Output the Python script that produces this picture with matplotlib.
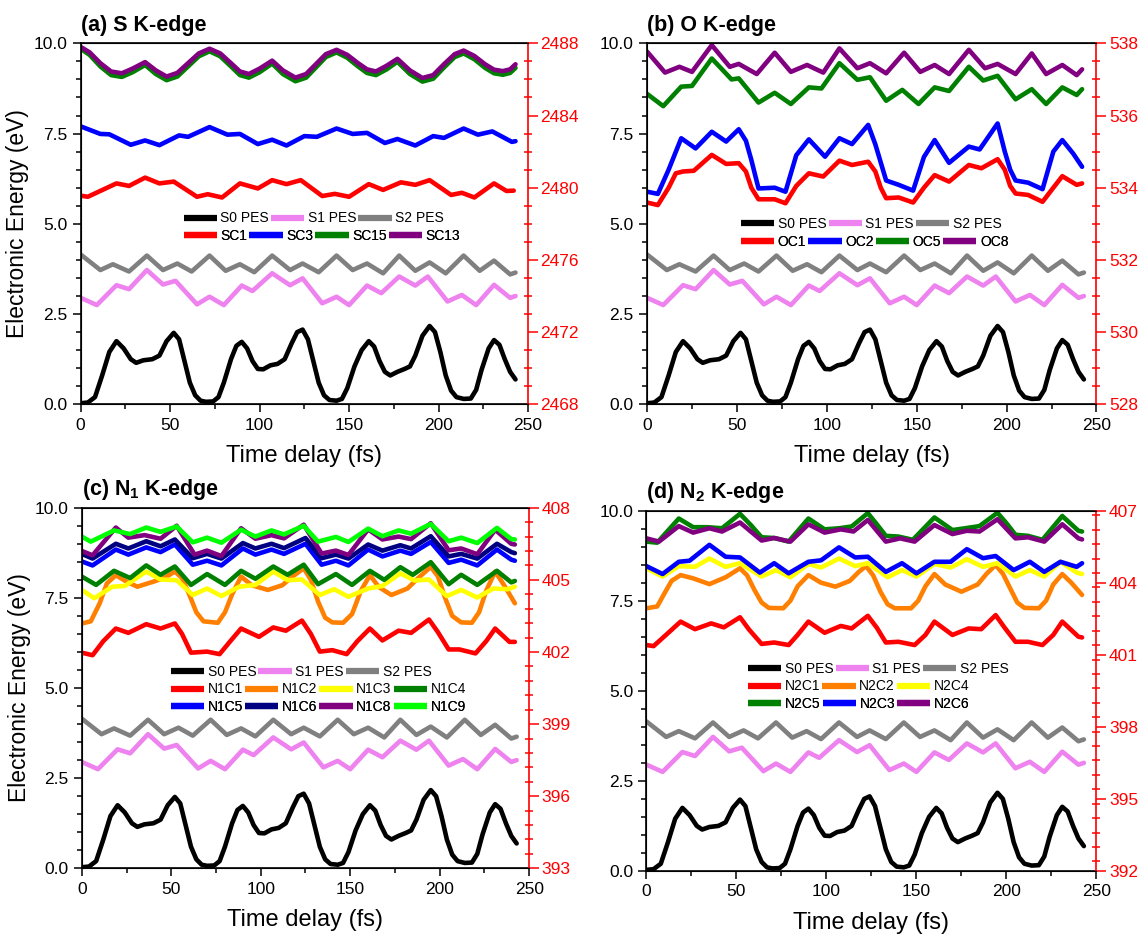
import matplotlib
matplotlib.use('Agg')
import matplotlib.pyplot as plt
import numpy as np
from matplotlib.lines import Line2D
from matplotlib.ticker import MultipleLocator, FormatStrFormatter

plt.rcParams['font.family'] = 'Liberation Sans'
plt.rcParams['mathtext.fontset'] = 'custom'
plt.rcParams['mathtext.rm'] = 'Liberation Sans'
plt.rcParams['mathtext.bf'] = 'Liberation Sans:bold'

# ---- ground / excited state PES (same in every panel) ----
t_s0 = [0, 4, 8, 12, 16, 20, 24, 28, 31, 35, 40, 44, 48, 52, 55, 58, 61, 64, 67, 70, 74, 77, 80, 84, 87, 90,
        93, 96, 99, 102, 106, 110, 114, 118, 121, 124, 127, 130, 133, 136, 139, 143, 146, 149, 153, 157, 161,
        164, 167, 170, 173, 177, 181, 184, 187, 191, 195, 198, 201, 204, 207, 210, 214, 218, 221, 224, 228,
        231, 234, 237, 240, 243]
e_s0 = [0.03, 0.05, 0.2, 0.8, 1.45, 1.75, 1.55, 1.25, 1.15, 1.22, 1.25, 1.35, 1.75, 1.98, 1.8, 1.2, 0.6, 0.25,
        0.1, 0.07, 0.08, 0.2, 0.6, 1.25, 1.62, 1.73, 1.55, 1.2, 0.98, 0.97, 1.08, 1.12, 1.25, 1.7, 2.0, 2.07,
        1.8, 1.2, 0.6, 0.25, 0.12, 0.1, 0.15, 0.45, 1.05, 1.5, 1.75, 1.6, 1.2, 0.9, 0.8, 0.9, 0.98, 1.05, 1.35,
        1.9, 2.17, 2.0, 1.45, 0.8, 0.38, 0.2, 0.15, 0.16, 0.4, 0.95, 1.55, 1.78, 1.65, 1.25, 0.9, 0.69]

t_s1 = [0, 9, 20, 27, 37, 46, 53, 65, 72, 80, 90, 96, 107, 117, 124, 135, 143, 150, 160, 168, 178, 187, 194,
        205, 213, 221, 231, 240, 243]
e_s1 = [2.95, 2.75, 3.3, 3.19, 3.72, 3.32, 3.42, 2.77, 2.98, 2.75, 3.29, 3.14, 3.63, 3.3, 3.49, 2.8, 2.98, 2.75,
        3.29, 3.08, 3.54, 3.29, 3.54, 2.85, 3.03, 2.75, 3.31, 2.95, 3.0]

t_s2 = [0, 11, 18, 27, 37, 46, 54, 62, 72, 81, 89, 97, 107, 117, 124, 133, 143, 152, 160, 169, 178, 187, 195,
        204, 214, 223, 231, 240, 243]
e_s2 = [4.15, 3.72, 3.88, 3.68, 4.12, 3.72, 3.9, 3.68, 4.12, 3.7, 3.88, 3.66, 4.12, 3.72, 3.9, 3.66, 4.12, 3.72,
        3.9, 3.63, 4.12, 3.7, 3.93, 3.63, 4.12, 3.7, 3.98, 3.6, 3.65]

# ---- (a) S K-edge ----
t_sc1 = [0, 4, 20, 27, 36, 44, 52, 65, 71, 79, 89, 99, 107, 115, 123, 135, 142, 150, 161, 169, 179, 187, 195,
         207, 213, 220, 231, 238, 242]
e_sc1 = [5.78, 5.75, 6.12, 6.05, 6.28, 6.12, 6.17, 5.75, 5.82, 5.73, 6.12, 5.98, 6.21, 6.1, 6.21, 5.77, 5.83,
         5.75, 6.1, 5.94, 6.15, 6.08, 6.21, 5.8, 5.86, 5.73, 6.12, 5.91, 5.92]
t_sc3 = [0, 11, 16, 28, 36, 44, 55, 60, 72, 82, 89, 99, 107, 115, 125, 132, 143, 152, 160, 170, 177, 187, 197,
         203, 214, 222, 230, 241, 243]
e_sc3 = [7.7, 7.49, 7.48, 7.19, 7.31, 7.18, 7.45, 7.41, 7.68, 7.47, 7.49, 7.21, 7.33, 7.17, 7.43, 7.41, 7.64,
         7.49, 7.52, 7.24, 7.35, 7.17, 7.43, 7.38, 7.64, 7.47, 7.56, 7.27, 7.29]
t_sc13 = [0, 5, 11, 17, 23, 29, 36, 42, 48, 54, 60, 66, 72, 78, 84, 89, 94, 100, 107, 113, 120, 126, 132, 137,
          143, 149, 155, 160, 165, 171, 177, 184, 191, 197, 203, 209, 214, 220, 226, 231, 236, 240, 243]
e_sc13 = [9.9, 9.75, 9.45, 9.22, 9.17, 9.3, 9.48, 9.25, 9.08, 9.18, 9.45, 9.72, 9.85, 9.72, 9.45, 9.22, 9.15,
          9.3, 9.52, 9.25, 9.05, 9.15, 9.45, 9.7, 9.82, 9.68, 9.45, 9.28, 9.22, 9.38, 9.57, 9.25, 9.04, 9.12,
          9.42, 9.7, 9.8, 9.65, 9.42, 9.27, 9.23, 9.28, 9.42]
t_sc15 = t_sc13
e_sc15 = [9.85, 9.68, 9.36, 9.12, 9.07, 9.2, 9.4, 9.15, 8.98, 9.08, 9.36, 9.64, 9.78, 9.64, 9.36, 9.12, 9.05,
          9.2, 9.44, 9.15, 8.95, 9.05, 9.36, 9.62, 9.75, 9.6, 9.36, 9.18, 9.12, 9.28, 9.49, 9.15, 8.94, 9.02,
          9.33, 9.62, 9.72, 9.56, 9.32, 9.17, 9.13, 9.18, 9.32]

# ---- (b) O K-edge ----
t_oc1 = [0, 6, 12, 16, 20, 26, 36, 44, 51, 55, 58, 62, 71, 77, 83, 90, 98, 107, 114, 123, 127, 130, 133, 140,
         148, 154, 160, 168, 179, 186, 195, 199, 202, 205, 212, 220, 226, 231, 239, 242]
e_oc1 = [5.59, 5.52, 6.0, 6.4, 6.45, 6.47, 6.91, 6.66, 6.68, 6.45, 6.0, 5.68, 5.68, 5.57, 6.05, 6.4, 6.31, 6.75,
         6.63, 6.72, 6.45, 6.0, 5.71, 5.73, 5.59, 6.0, 6.35, 6.17, 6.63, 6.54, 6.79, 6.5, 6.05, 5.84, 5.8, 5.61,
         6.0, 6.32, 6.08, 6.12]
t_oc2 = [0, 6, 12, 19, 27, 36, 44, 51, 55, 58, 62, 71, 77, 83, 90, 99, 107, 114, 123, 127, 130, 133, 140, 148,
         154, 160, 168, 179, 185, 195, 199, 202, 205, 212, 220, 226, 231, 237, 242]
e_oc2 = [5.89, 5.83, 6.5, 7.37, 7.09, 7.55, 7.28, 7.62, 7.3, 6.77, 5.98, 6.0, 5.89, 6.9, 7.34, 6.86, 7.37, 7.21,
         7.74, 7.2, 6.7, 6.2, 6.08, 5.92, 6.85, 7.32, 6.69, 7.14, 7.06, 7.78, 7.0, 6.5, 6.2, 6.14, 5.96, 7.0,
         7.32, 6.95, 6.58]
t_oc5 = [0, 9, 19, 25, 36, 47, 51, 62, 71, 80, 90, 97, 107, 117, 124, 133, 142, 151, 160, 168, 179, 187, 195,
         205, 214, 222, 231, 239, 242]
e_oc5 = [8.6, 8.26, 8.8, 8.82, 9.58, 9.0, 9.03, 8.36, 8.63, 8.32, 8.78, 8.75, 9.45, 8.99, 9.06, 8.41, 8.71, 8.32,
         8.78, 8.68, 9.35, 8.97, 9.1, 8.45, 8.73, 8.32, 8.78, 8.57, 8.73]
t_oc8 = [0, 10, 18, 25, 36, 46, 51, 61, 71, 80, 89, 98, 107, 117, 124, 133, 143, 152, 160, 168, 179, 188, 195,
         205, 214, 222, 231, 239, 242]
e_oc8 = [9.77, 9.19, 9.35, 9.21, 9.95, 9.35, 9.43, 9.15, 9.74, 9.21, 9.4, 9.19, 9.86, 9.31, 9.45, 9.17, 9.74,
         9.21, 9.4, 9.15, 9.82, 9.31, 9.43, 9.15, 9.72, 9.15, 9.4, 9.12, 9.28]

# ---- (c) N1 K-edge ----
t_n1c1 = [0, 6, 12, 19, 26, 36, 44, 52, 56, 61, 70, 77, 83, 89, 99, 107, 114, 123, 128, 133, 140, 148, 154, 161,
          168, 177, 184, 194, 199, 205, 211, 220, 226, 231, 239, 242]
e_n1c1 = [5.98, 5.91, 6.3, 6.65, 6.53, 6.77, 6.65, 6.79, 6.5, 5.98, 6.01, 5.94, 6.3, 6.65, 6.42, 6.68, 6.59,
          6.87, 6.5, 6.01, 6.05, 5.94, 6.3, 6.65, 6.32, 6.59, 6.53, 6.9, 6.55, 6.07, 6.07, 5.96, 6.3, 6.65, 6.28,
          6.28]
t_n1c2 = [0, 5, 10, 14, 19, 25, 31, 40, 46, 52, 56, 60, 64, 68, 76, 80, 84, 89, 95, 104, 112, 118, 124, 128, 132,
          136, 140, 146, 151, 156, 161, 166, 173, 182, 188, 195, 199, 203, 207, 212, 218, 222, 226, 231, 236, 242]
e_n1c2 = [6.79, 6.85, 7.35, 7.9, 8.13, 7.95, 7.81, 7.95, 8.05, 8.23, 8.05, 7.6, 7.1, 6.85, 6.81, 7.1, 7.6, 8.09,
          7.85, 7.72, 7.85, 8.1, 8.32, 8.0, 7.4, 6.95, 6.82, 6.81, 7.05, 7.7, 8.13, 7.8, 7.58, 7.76, 8.05, 8.36,
          8.1, 7.5, 7.0, 6.82, 6.81, 7.1, 7.7, 8.23, 7.85, 7.35]
t_n1c3 = [0, 7, 17, 24, 36, 44, 53, 62, 70, 78, 88, 97, 107, 115, 123, 133, 141, 149, 160, 168, 178, 186, 194,
          204, 212, 221, 230, 238, 242]
e_n1c3 = [7.72, 7.49, 7.81, 7.83, 8.23, 8.01, 7.99, 7.58, 7.76, 7.55, 7.81, 7.86, 8.23, 7.99, 8.01, 7.58, 7.74,
          7.53, 7.76, 7.83, 8.18, 7.98, 8.01, 7.55, 7.72, 7.51, 7.76, 7.74, 7.81]
t_n1c4 = [0, 8, 18, 27, 36, 44, 52, 61, 70, 80, 89, 97, 107, 115, 124, 132, 142, 151, 161, 169, 178, 185, 195,
          205, 212, 221, 232, 240, 242]
e_n1c4 = [8.09, 7.86, 8.25, 8.05, 8.4, 8.14, 8.37, 7.86, 8.16, 7.86, 8.25, 8.03, 8.37, 8.14, 8.42, 7.88, 8.16,
          7.86, 8.25, 8.0, 8.35, 8.14, 8.49, 7.88, 8.14, 7.86, 8.25, 7.93, 7.97]
t_n1c5 = [0, 6, 19, 26, 36, 44, 52, 62, 70, 78, 90, 97, 106, 113, 125, 134, 142, 149, 160, 168, 178, 184, 195,
          205, 212, 221, 232, 240, 242]
e_n1c5 = [8.51, 8.4, 8.84, 8.7, 8.9, 8.77, 8.98, 8.42, 8.53, 8.4, 8.87, 8.7, 8.84, 8.72, 9.0, 8.42, 8.53, 8.4,
          8.84, 8.65, 8.81, 8.72, 9.05, 8.47, 8.56, 8.4, 8.84, 8.56, 8.53]
t_n1c6 = t_n1c5
e_n1c6 = [8.72, 8.59, 9.0, 8.87, 9.07, 8.93, 9.12, 8.6, 8.72, 8.59, 9.02, 8.87, 9.0, 8.88, 9.16, 8.6, 8.7, 8.59,
          8.98, 8.81, 8.96, 8.87, 9.21, 8.65, 8.72, 8.59, 9.0, 8.77, 8.74]
t_n1c8 = [0, 6, 19, 26, 35, 44, 53, 63, 70, 78, 89, 97, 106, 113, 124, 134, 142, 149, 160, 168, 177, 184, 195,
          205, 212, 221, 231, 240, 242]
e_n1c8 = [8.8, 8.68, 9.45, 9.17, 9.24, 9.14, 9.5, 8.7, 8.81, 8.66, 9.43, 9.14, 9.24, 9.15, 9.53, 8.73, 8.81, 8.69,
          9.4, 9.12, 9.2, 9.13, 9.57, 8.82, 8.87, 8.71, 9.39, 9.0, 8.98]
t_n1c9 = [0, 5, 18, 27, 36, 44, 53, 62, 70, 78, 89, 97, 106, 113, 124, 132, 142, 149, 160, 168, 177, 184, 195,
          205, 212, 221, 232, 240, 242]
e_n1c9 = [9.2, 9.06, 9.37, 9.27, 9.45, 9.33, 9.48, 9.04, 9.17, 9.03, 9.39, 9.2, 9.37, 9.26, 9.5, 9.06, 9.19,
          9.05, 9.42, 9.21, 9.37, 9.28, 9.55, 9.07, 9.17, 9.02, 9.44, 9.13, 9.12]

# ---- (d) N2 K-edge ----
t_n2c1 = [0, 4, 12, 19, 27, 36, 43, 52, 57, 64, 71, 79, 84, 90, 99, 108, 114, 123, 128, 133, 140, 149, 155, 160,
          170, 179, 186, 194, 199, 205, 212, 220, 226, 231, 240, 242]
e_n2c1 = [6.27, 6.24, 6.6, 6.92, 6.71, 6.87, 6.76, 7.04, 6.7, 6.3, 6.34, 6.27, 6.55, 6.92, 6.61, 6.8, 6.73,
          7.08, 6.75, 6.34, 6.36, 6.27, 6.55, 6.92, 6.55, 6.73, 6.71, 7.1, 6.75, 6.36, 6.36, 6.27, 6.55, 6.92,
          6.5, 6.48]
t_n2c2 = [0, 6, 10, 14, 19, 26, 35, 44, 52, 56, 60, 64, 68, 76, 80, 84, 90, 97, 105, 113, 118, 122, 126, 130,
          134, 138, 147, 151, 155, 160, 166, 175, 184, 189, 194, 198, 202, 206, 210, 218, 222, 226, 231, 236, 242]
e_n2c2 = [7.29, 7.34, 7.7, 8.05, 8.21, 8.12, 7.96, 8.15, 8.4, 8.2, 7.8, 7.45, 7.3, 7.29, 7.5, 7.9, 8.21, 8.0,
          7.89, 8.05, 8.3, 8.46, 8.2, 7.75, 7.4, 7.29, 7.29, 7.5, 7.9, 8.24, 7.95, 7.75, 7.95, 8.25, 8.49, 8.25,
          7.85, 7.45, 7.3, 7.29, 7.5, 7.95, 8.24, 8.0, 7.66]
t_n2c4 = [0, 9, 18, 27, 35, 44, 52, 64, 72, 80, 90, 97, 107, 116, 123, 134, 142, 150, 160, 169, 178, 187, 195,
          205, 213, 221, 230, 239, 242]
e_n2c4 = [8.4, 8.17, 8.46, 8.44, 8.67, 8.44, 8.54, 8.17, 8.35, 8.15, 8.52, 8.42, 8.67, 8.46, 8.54, 8.15, 8.35,
          8.17, 8.52, 8.42, 8.65, 8.44, 8.54, 8.17, 8.35, 8.17, 8.58, 8.28, 8.24]
t_n2c5 = [0, 6, 18, 26, 34, 42, 52, 58, 64, 71, 79, 90, 99, 107, 114, 123, 128, 133, 140, 148, 160, 170, 177,
          185, 195, 200, 205, 212, 220, 231, 240, 242]
e_n2c5 = [9.14, 9.11, 9.78, 9.54, 9.54, 9.51, 9.91, 9.6, 9.26, 9.24, 9.14, 9.78, 9.48, 9.51, 9.56, 9.93, 9.62,
          9.3, 9.28, 9.19, 9.81, 9.46, 9.51, 9.57, 9.94, 9.65, 9.33, 9.3, 9.19, 9.85, 9.44, 9.42]
t_n2c3 = [0, 9, 18, 24, 35, 44, 52, 63, 71, 79, 90, 97, 107, 116, 123, 133, 142, 150, 160, 169, 178, 187, 194,
          204, 213, 221, 230, 239, 242]
e_n2c3 = [8.46, 8.24, 8.58, 8.61, 9.05, 8.72, 8.7, 8.28, 8.54, 8.26, 8.58, 8.62, 8.98, 8.7, 8.72, 8.3, 8.54,
          8.26, 8.58, 8.58, 8.93, 8.68, 8.74, 8.35, 8.58, 8.3, 8.58, 8.44, 8.54]
t_n2c6 = [0, 7, 18, 26, 35, 42, 52, 64, 71, 80, 90, 99, 108, 115, 123, 133, 141, 149, 160, 170, 178, 185, 195,
          205, 212, 221, 231, 240, 242]
e_n2c6 = [9.23, 9.14, 9.57, 9.39, 9.51, 9.42, 9.67, 9.17, 9.24, 9.14, 9.62, 9.39, 9.48, 9.42, 9.74, 9.14, 9.23,
          9.14, 9.6, 9.35, 9.44, 9.42, 9.76, 9.23, 9.26, 9.14, 9.62, 9.23, 9.2]

pes = [('S0 PES', 'black', t_s0, e_s0), ('S1 PES', 'violet', t_s1, e_s1), ('S2 PES', 'gray', t_s2, e_s2)]

panels = [
    dict(pos=[0.0709, 0.5671, 0.3931, 0.3865], title='(a) S K-edge', ylabel=True,
         right=(2468, 2488, 4, 1), leg_x=0.230, leg_y=[0.515, 0.467], rows=[4],
         cores=[('SC1', 'red', t_sc1, e_sc1), ('SC3', 'blue', t_sc3, e_sc3),
                ('SC15', 'green', t_sc15, e_sc15), ('SC13', 'purple', t_sc13, e_sc13)]),
    dict(pos=[0.5686, 0.5671, 0.3949, 0.3865], title='(b) O K-edge', ylabel=False,
         right=(528, 538, 2, 0.5), leg_x=0.209, leg_y=[0.4995, 0.450], rows=[4],
         cores=[('OC1', 'red', t_oc1, e_oc1), ('OC2', 'blue', t_oc2, e_oc2),
                ('OC5', 'green', t_oc5, e_oc5), ('OC8', 'purple', t_oc8, e_oc8)]),
    dict(pos=[0.0719, 0.0703, 0.3931, 0.3861], title=r'(c) N$_\mathbf{1}$ K-edge', ylabel=True,
         right=(393, 408, 3, 0.6), leg_x=0.199, leg_y=[0.545, 0.496, 0.448], rows=[4, 4],
         cores=[('N1C1', 'red', t_n1c1, e_n1c1), ('N1C2', '#FF8000', t_n1c2, e_n1c2),
                ('N1C3', '#FFFF00', t_n1c3, e_n1c3), ('N1C4', 'green', t_n1c4, e_n1c4),
                ('N1C5', 'blue', t_n1c5, e_n1c5), ('N1C6', 'navy', t_n1c6, e_n1c6),
                ('N1C8', 'purple', t_n1c8, e_n1c8), ('N1C9', '#00FF00', t_n1c9, e_n1c9)]),
    dict(pos=[0.5680, 0.0675, 0.3955, 0.3858], title=r'(d) N$_\mathbf{2}$ K-edge', ylabel=False,
         right=(392, 407, 3, 0.6), leg_x=0.226, leg_y=[0.560, 0.512, 0.463], rows=[3, 3],
         cores=[('N2C1', 'red', t_n2c1, e_n2c1), ('N2C2', '#FF8000', t_n2c2, e_n2c2),
                ('N2C4', '#FFFF00', t_n2c4, e_n2c4), ('N2C5', 'green', t_n2c5, e_n2c5),
                ('N2C3', 'blue', t_n2c3, e_n2c3), ('N2C6', 'purple', t_n2c6, e_n2c6)]),
]

fig = plt.figure(figsize=(11.38, 9.34), dpi=100)

for p in panels:
    ax = fig.add_axes(p['pos'])
    series = pes + p['cores']
    for name, col, t, e in series:
        ax.plot(t, e, color=col, lw=3.3, solid_joinstyle='round', solid_capstyle='round')

    ax.set_xlim(0, 250)
    ax.set_ylim(0, 10)
    ax.set_xticks(np.arange(0, 251, 50))
    ax.xaxis.set_minor_locator(MultipleLocator(25))
    ax.set_yticks(np.arange(0, 10.01, 2.5))
    ax.yaxis.set_minor_locator(MultipleLocator(0.5))
    ax.yaxis.set_major_formatter(FormatStrFormatter('%.1f'))
    ax.tick_params(which='both', direction='out', top=False, right=False, width=1.1, labelsize=12.5)
    ax.tick_params(which='major', length=6)
    ax.tick_params(which='minor', length=3.5)
    for s in ax.spines.values():
        s.set_linewidth(1.2)
    ax.spines['right'].set_visible(False)
    ax.set_xlabel('Time delay (fs)', fontsize=17, labelpad=9)
    if p['ylabel']:
        ax.set_ylabel('Electronic Energy (eV)', fontsize=16.5, labelpad=3)
    ax.set_title(p['title'], loc='left', fontsize=15.5, fontweight='bold', pad=9)

    # red energy scale on the right
    lo, hi, step, minor = p['right']
    ax2 = ax.twinx()
    ax2.set_ylim(lo, hi)
    ax2.set_yticks(np.arange(lo, hi + 0.01, step))
    ax2.yaxis.set_minor_locator(MultipleLocator(minor))
    ax2.tick_params(axis='y', which='both', colors='red', width=1.1, labelsize=12.5, pad=2)
    ax2.tick_params(axis='y', which='major', direction='out', length=7)
    ax2.tick_params(axis='y', which='minor', direction='inout', length=6)
    ax2.spines['right'].set_color('red')
    ax2.spines['right'].set_linewidth(1.2)

    # legend rows: PES first, then core states
    rows = [pes]
    k = 0
    for n in p['rows']:
        rows.append(p['cores'][k:k + n])
        k += n
    rows.append(p['cores'][k:])
    for row, y in zip(rows, p['leg_y']):
        handles = [Line2D([], [], color=c, lw=4.5, solid_capstyle='butt') for _, c, _, _ in row]
        labels = [name for name, _, _, _ in row]
        leg = ax2.legend(handles, labels, loc='center left', bbox_to_anchor=(p['leg_x'], y),
                         ncol=len(row), frameon=False, fontsize=10, handlelength=2.4,
                         handletextpad=0.25, columnspacing=0.15, borderpad=0, borderaxespad=0)
        ax2.add_artist(leg)

plt.savefig('out.png', dpi=100)
